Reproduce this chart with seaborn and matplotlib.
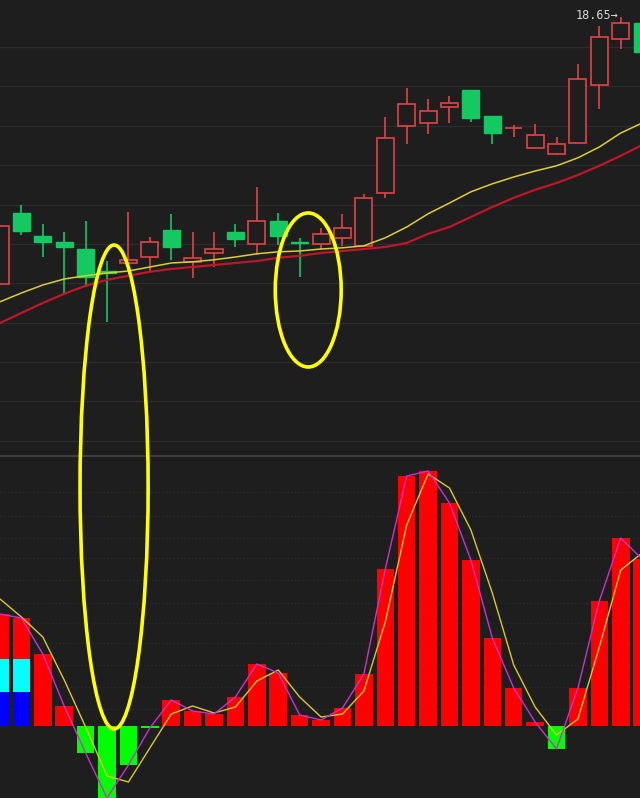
import numpy as np
import pandas as pd
import seaborn as sns

from matplotlib import pyplot as plt
from matplotlib.patches import Ellipse

# Tagesindex der Kerzen
tage = list(range(31))

# Kerzen: Eroeffnung, Hoch, Tief, Schluss
kurs_open = [11.98, 13.75, 13.18, 13.03, 12.85, 12.30, 12.50, 12.65, 13.33, 12.53,
             12.75, 13.28, 12.98, 13.55, 13.03, 12.98, 13.13, 12.93, 14.25, 15.93,
             16.00, 16.40, 16.83, 16.18, 15.88, 15.38, 15.23, 15.50, 16.95, 18.10, 18.50]
kurs_high = [13.45, 13.95, 13.48, 13.28, 13.55, 12.55, 13.78, 13.15, 13.73, 13.28,
             13.28, 13.48, 14.40, 13.75, 13.13, 13.38, 13.73, 14.23, 16.15, 16.88,
             16.60, 16.68, 16.83, 16.18, 15.95, 15.98, 15.65, 17.48, 18.43, 18.65, 18.55]
kurs_low = [11.95, 13.20, 12.65, 11.75, 11.90, 11.03, 12.33, 12.28, 12.58, 12.13,
            12.40, 12.90, 12.70, 12.95, 12.15, 12.83, 12.93, 12.93, 14.13, 15.48,
            15.73, 16.00, 16.03, 15.48, 15.65, 15.38, 15.20, 15.50, 16.35, 17.85, 17.70]
kurs_close = [13.43, 13.30, 13.03, 12.90, 12.15, 12.25, 12.58, 13.03, 12.90, 12.63,
              12.85, 13.10, 13.55, 13.18, 13.00, 13.23, 13.38, 14.13, 15.63, 16.48,
              16.30, 16.50, 16.13, 15.75, 15.88, 15.70, 15.48, 17.10, 18.15, 18.50, 17.78]

# gleitende Durchschnitte (gelb = kurz, rot = lang)
ma_kurz = [11.53, 11.75, 11.95, 12.10, 12.18, 12.25, 12.30, 12.40, 12.50, 12.53,
           12.58, 12.65, 12.73, 12.78, 12.80, 12.85, 12.88, 12.93, 13.13, 13.40,
           13.73, 14.00, 14.28, 14.48, 14.65, 14.80, 14.93, 15.13, 15.40, 15.75, 16.00]
ma_lang = [11.00, 11.25, 11.50, 11.73, 11.93, 12.08, 12.18, 12.28, 12.35, 12.40,
           12.45, 12.50, 12.55, 12.63, 12.68, 12.75, 12.80, 12.85, 12.90, 13.00,
           13.23, 13.40, 13.65, 13.90, 14.13, 14.33, 14.50, 14.70, 14.93, 15.18, 15.45]

# Indikator unten: Balken (= violette Linie) und gelbe Signallinie
balken = [11.2, 10.8, 7.2, 2.0, -2.7, -7.2, -3.9, -0.2, 2.6, 1.5,
          1.2, 2.9, 6.2, 5.3, 1.1, 0.6, 1.8, 5.2, 15.7, 25.0,
          25.5, 22.3, 16.6, 8.8, 3.8, 0.4, -2.3, 3.8, 12.5, 18.8, 16.7]
signal = [12.7, 10.9, 8.9, 4.6, -0.1, -5.0, -5.6, -2.2, 1.2, 2.0,
          1.3, 1.9, 4.5, 5.6, 2.9, 0.9, 1.2, 3.5, 10.4, 20.1,
          25.2, 23.8, 19.6, 13.3, 6.1, 1.9, -0.9, 0.7, 7.9, 15.6, 17.3]

# blau/tuerkis Segmente in den ersten beiden Balken
extra_tage = [0, 1]
blau = [3.4, 3.4]
tuerkis = [3.3, 3.3]

# Gitterlinien
gitter_kurs = [17.90, 16.92, 15.93, 14.95, 13.96, 12.98, 12.00, 11.01, 10.03, 9.04, 8.06]
gitter_ind = [23.4, 21.0, 18.8, 16.8, 14.6, 12.3, 10.3, 8.3, 6.1, 3.9, 1.7]

# Markierungen (Mitte x als Tagesindex, Mitte y als Bildanteil)
ellipsen_x = [5.33, 14.4]
ellipsen_y = [0.3897, 0.6366]
ellipsen_b = [3.18, 3.08]
ellipsen_h = [0.6065, 0.193]

hintergrund = '#1e1e1e'
rot = '#e24444'
gruen = '#14c862'

sns.set_theme(style='dark', rc={'axes.facecolor': hintergrund,
                                'figure.facecolor': hintergrund})

df = pd.DataFrame({'tag': tage, 'open': kurs_open, 'high': kurs_high,
                   'low': kurs_low, 'close': kurs_close,
                   'ma_kurz': ma_kurz, 'ma_lang': ma_lang,
                   'balken': balken, 'signal': signal})
df['steigt'] = df['close'] >= df['open']
df['farbe'] = ['plus' if v >= 0 else 'minus' for v in df['balken']]

# Grenze zwischen den Feldern (Anteil von unten)
grenze = 1 - 456 / 798

fig = plt.figure(figsize=(6.4, 7.98), dpi=100)
ax_kurs = fig.add_axes([0, grenze, 1, 1 - grenze])
ax_ind = fig.add_axes([0, 0, 1, grenze])

# ---- Kerzenchart ----
kerzen_farbe = [rot if s else gruen for s in df['steigt']]
ax_kurs.vlines(df['tag'], df['low'], df['high'], colors=kerzen_farbe, lw=1.2, zorder=2)
hoch = df[df['steigt']]
runter = df[~df['steigt']]
ax_kurs.bar(hoch['tag'], hoch['close'] - hoch['open'], bottom=hoch['open'], width=0.8,
            facecolor=hintergrund, edgecolor=rot, linewidth=1.2, zorder=3)
ax_kurs.bar(runter['tag'], runter['close'] - runter['open'], bottom=runter['open'],
            width=0.8, facecolor=gruen, edgecolor=gruen, linewidth=1.0, zorder=3)

sns.lineplot(data=df, x='tag', y='ma_kurz', color='#d8d030', linewidth=1.1, ax=ax_kurs, zorder=4)
sns.lineplot(data=df, x='tag', y='ma_lang', color='#c01628', linewidth=1.6, ax=ax_kurs, zorder=4)

i_max = int(np.argmax(kurs_high))
ax_kurs.text(i_max - 0.12, kurs_high[i_max] + 0.03, f'{kurs_high[i_max]:.2f}\u2192',
             ha='right', va='center', color='#d8d8d8', fontsize=8.5,
             family=['DejaVu Sans Mono'])

ax_kurs.set_ylim(7.675, 19.075)
ax_kurs.set_yticks(gitter_kurs)
ax_kurs.grid(axis='y', color='#2c2c2c', linewidth=1)

# ---- Indikator ----
sns.barplot(data=df, x='tag', y='balken', hue='farbe', dodge=False, native_scale=True,
            palette={'plus': '#ff0000', 'minus': '#00ff00'}, saturation=1,
            width=0.82, errorbar=None, legend=False, ax=ax_ind, zorder=2,
            linewidth=0, edgecolor='none')
ax_ind.bar(extra_tage, blau, width=0.82, color='#0000ff', linewidth=0, zorder=3)
ax_ind.bar(extra_tage, tuerkis, bottom=blau, width=0.82, color='#00ffff', linewidth=0, zorder=3)

sns.lineplot(data=df, x='tag', y='signal', color='#d8c828', linewidth=1.0, ax=ax_ind, zorder=4)
sns.lineplot(data=df, x='tag', y='balken', color='#cc30cc', linewidth=1.0, ax=ax_ind, zorder=5)

ax_ind.set_ylim(-7.2, 27.0)
ax_ind.set_yticks(gitter_ind)
ax_ind.grid(axis='y', color='#2a2a2a', linewidth=1, linestyle=':')

for ax in (ax_kurs, ax_ind):
    ax.set_xlim(0, 29.9)
    ax.set_xticks([])
    ax.set_xlabel('')
    ax.set_ylabel('')
    ax.tick_params(length=0, labelleft=False, labelbottom=False)
    for s in ax.spines.values():
        s.set_visible(False)
ax_ind.spines['top'].set_visible(True)
ax_ind.spines['top'].set_color('#444444')
ax_ind.spines['top'].set_linewidth(1.2)

# ---- gelbe Ellipsen ueber beide Felder ----
ax_mark = fig.add_axes([0, 0, 1, 1])
ax_mark.set_xlim(0, 29.9)
ax_mark.set_ylim(0, 1)
ax_mark.axis('off')
ax_mark.patch.set_alpha(0)
for ex, ey, eb, eh in zip(ellipsen_x, ellipsen_y, ellipsen_b, ellipsen_h):
    ax_mark.add_patch(Ellipse((ex, ey), eb, eh, fill=False, edgecolor='#ffff00', linewidth=2.6))

fig.savefig('out.png', dpi=100, facecolor=hintergrund)
